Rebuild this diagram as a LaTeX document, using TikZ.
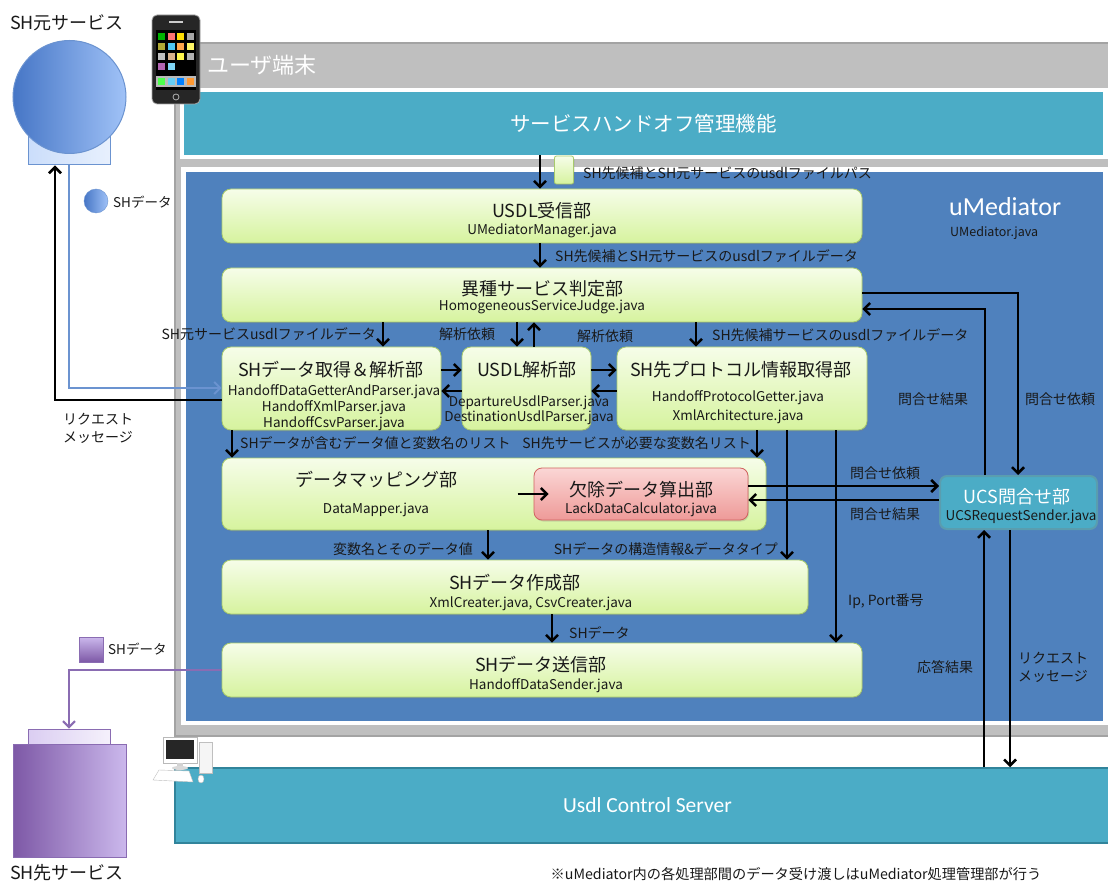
\documentclass[tikz,border=0pt]{standalone}
\usepackage{fontspec}
\setmainfont{Noto Sans CJK JP}
\newfontfamily\calfont{Carlito}
\usepackage{xcolor}
\usepackage{tikz}
\usetikzlibrary{arrows.meta,shadows}

\definecolor{umblue}{HTML}{4F81BD}
\definecolor{tealbox}{HTML}{4BACC6}
\definecolor{tealdk}{HTML}{31849B}
\definecolor{framegray}{HTML}{BFBFBF}
\definecolor{framedk}{HTML}{A3A3A3}
\definecolor{gtop}{HTML}{F6FDE9}
\definecolor{gbot}{HTML}{D6F39E}
\definecolor{gline}{HTML}{A8CB6C}
\definecolor{ptop}{HTML}{FBD6D5}
\definecolor{pbot}{HTML}{EE9A98}
\definecolor{pline}{HTML}{D0625F}
\definecolor{srcL}{HTML}{4676C6}
\definecolor{srcR}{HTML}{A0C2F7}
\definecolor{srcE}{HTML}{6B93D0}
\definecolor{dstL}{HTML}{7D58A6}
\definecolor{dstR}{HTML}{CBB8EC}
\definecolor{dstE}{HTML}{8A6CB2}

\begin{document}
\begin{tikzpicture}[x=1pt, y=-1pt,
    every node/.style={font=\fontsize{14}{18}\selectfont, text=black!90, inner sep=0pt},
    ttl/.style={font=\fontsize{18}{20}\selectfont},
    jv/.style={font=\fontsize{13.5}{16}\selectfont},
    gbox/.style={draw=gline, line width=0.8pt, rounded corners=9pt, top color=gtop, bottom color=gbot,
      drop shadow={opacity=0.25, shadow xshift=1pt, shadow yshift=-1.5pt}},
    arr/.style={line width=2.5pt, -{Straight Barb[length=6pt,width=12pt]}},
  ]
    \useasboundingbox (0,0) rectangle (1108,882);
    \clip (0,0) rectangle (1108,882);
    \fill[white] (0,0) rectangle (1108,882);

    % user terminal frame
    \draw[fill=framegray, draw=framedk, line width=1.5pt] (175,43) rectangle (1125,736);
    \node[anchor=west, text=white, font=\fontsize{22}{24}\selectfont] (dev) at (207,65) {ユーザ端末};
    \fill[white] (180,88) rectangle (1108,159);
    \node[fill=tealbox, minimum width=919, minimum height=63, text=white,
      font=\fontsize{20.5}{22}\selectfont] (mgr) at (643.5,123.5) {サービスハンドオフ管理機能};
    \fill[white] (181,167) rectangle (1108,725);
    \node[fill=umblue, minimum width=917, minimum height=549] (umed) at (644.5,446.5) {};
    \node[anchor=west, text=white, font=\calfont\fontsize{26}{28}\selectfont] (umedname) at (949,207) {uMediator};
    \node[anchor=west, font=\fontsize{12.5}{14}\selectfont] (umedjava) at (950,233) {UMediator.java};

    % phone
    \begin{scope}[shift={(152,15)}]
        \fill[black!85, rounded corners=5pt] (0,0) rectangle (48,89);
        \draw[black!35, line width=0.8pt, rounded corners=5pt] (0,0) rectangle (48,89);
        \fill[black] (4,15) rectangle (44,75);
        \fill[gray!40] (17,6) rectangle (31,8);
        \foreach \col [count=\i from 0] in {green!70!black, red!55, yellow!80!orange, gray!70,
            olive!70, cyan!70, orange!70, yellow!60, gray!50, brown!60, yellow!70, gray!60,
            violet!60, cyan!50} {
            \pgfmathtruncatemacro{\rr}{int(\i/4)}
            \pgfmathtruncatemacro{\cc}{mod(\i,4)}
            \fill[\col] (6+\cc*9.5,18+\rr*10) rectangle ++(7,7);
        }
        \fill[gray!55] (4,61) rectangle (44,72);
        \foreach \col [count=\i from 0] in {green!70, cyan!60, blue!50!cyan, orange!80}
            \fill[\col] (6+\i*9.5,63) rectangle ++(7,7);
        \draw[gray!60, line width=0.8pt] (24,82) circle (3pt);
    \end{scope}

    % source service
    \node[draw=srcE, line width=1pt, left color=srcR!55, right color=srcR!25,
      minimum width=82, minimum height=40] (srcbase) at (69,145) {};
    \node[circle, draw=srcE, line width=1pt, left color=srcL, right color=srcR,
      minimum size=113] (src) at (69.5,97) {};
    \node[font=\fontsize{18}{20}\selectfont] (srcname) at (67,23) {SH元サービス};
    \node[circle, draw=srcE, left color=srcL, right color=srcR, minimum size=24] (srcdot) at (96,201) {};
    \node[anchor=west, font=\fontsize{13.5}{16}\selectfont] (srcdotlbl) at (113,202) {SHデータ};

    % destination service
    \node[draw=dstE, line width=1pt, left color=dstR!70, right color=dstR!20,
      minimum width=82, minimum height=15] (dsttop) at (69,736.5) {};
    \node[draw=dstE, line width=1pt, left color=dstL, right color=dstR,
      minimum width=113, minimum height=113] (dst) at (69.5,800.5) {};
    \node[font=\fontsize{18}{20}\selectfont] (dstname) at (67,873) {SH先サービス};
    \node[draw=dstE, top color=dstR, bottom color=dstL, minimum width=24, minimum height=25] (dstdot) at (91,649.5) {};
    \node[anchor=west, font=\fontsize{13.5}{16}\selectfont] (dstdotlbl) at (108,649) {SHデータ};

    % server
    \node[fill=tealbox, draw=tealdk, line width=1.5pt, minimum width=945, minimum height=75,
      text=white, font=\calfont\fontsize{21.5}{24}\selectfont] (server) at (647.5,805.5) {Usdl Control Server};
    \begin{scope}[shift={(153,737)}]
        \draw[gray!55, fill=white] (10,0) rectangle (44,26);
        \fill[black!85] (13,3) rectangle (41,22);
        \fill[gray!35] (24,26) rectangle (30,29);
        \fill[gray!30] (27,31) ellipse (8pt and 2pt);
        \draw[gray!50, fill=gray!8] (46,5) rectangle (59,36);
        \draw[gray!50, fill=white] (6,33) -- (36,34) -- (40,45) -- (0,43) -- cycle;
        \draw[gray!50, fill=white] (48,42) ellipse (3pt and 4pt);
    \end{scope}

    % processing units
    \node[gbox, minimum width=19, minimum height=28, rounded corners=2pt] (doc) at (564,170) {};
    \node[gbox, minimum width=640, minimum height=54] (recv) at (542,216) {};
    \node[ttl] (recvT) at (542,211) {USDL受信部};
    \node[jv] (recvJ) at (542,231) {UMediatorManager.java};

    \node[gbox, minimum width=640, minimum height=54] (judge) at (542,295) {};
    \node[ttl] (judgeT) at (542,289) {異種サービス判定部};
    \node[jv] (judgeJ) at (542,307) {HomogeneousServiceJudge.java};

    \node[gbox, minimum width=219, minimum height=83] (getter) at (331.5,388.5) {};
    \node[ttl] (getterT) at (331,370) {SHデータ取得＆解析部};
    \node[jv, align=center] (getterJ) at (334,408) {HandoffDataGetterAndParser.java\\HandoffXmlParser.java\\HandoffCsvParser.java};

    \node[gbox, minimum width=129, minimum height=83] (parser) at (526.5,388.5) {};
    \node[ttl] (parserT) at (527,370) {USDL解析部};
    \node[jv, align=center, font=\fontsize{13.5}{15.5}\selectfont] (parserJ) at (529,410.5) {DepartureUsdlParser.java\\DestinationUsdlParser.java};

    \node[gbox, minimum width=250, minimum height=83] (proto) at (742,388.5) {};
    \node[ttl] (protoT) at (741,370) {SH先プロトコル情報取得部};
    \node[jv, align=center, font=\fontsize{13.5}{19}\selectfont] (protoJ) at (738,407.5) {HandoffProtocolGetter.java\\XmlArchitecture.java};

    \node[gbox, minimum width=544, minimum height=72] (mapper) at (494,494) {};
    \node[ttl] (mapperT) at (376,480) {データマッピング部};
    \node[jv] (mapperJ) at (376,510) {DataMapper.java};

    \node[draw=pline, line width=0.8pt, rounded corners=8pt, top color=ptop, bottom color=pbot,
      drop shadow={opacity=0.25, shadow xshift=1pt, shadow yshift=-1.5pt},
      minimum width=214, minimum height=52] (lack) at (641,494) {};
    \node[ttl] (lackT) at (641,490) {欠除データ算出部};
    \node[jv] (lackJ) at (641,510) {LackDataCalculator.java};

    \node[gbox, minimum width=586, minimum height=54] (creator) at (515,587) {};
    \node[ttl] (creatorT) at (515,583) {SHデータ作成部};
    \node[jv] (creatorJ) at (531,604) {XmlCreater.java, CsvCreater.java};

    \node[gbox, minimum width=640, minimum height=54] (sender) at (542,670) {};
    \node[ttl] (senderT) at (541,665) {SHデータ送信部};
    \node[jv] (senderJ) at (546,686) {HandoffDataSender.java};

    \node[fill=tealbox, draw=tealdk!80, line width=2pt, rounded corners=7pt,
      minimum width=157, minimum height=53] (ucs) at (1018.5,502.5) {};
    \node[ttl, text=white] (ucsT) at (1017,497) {UCS問合せ部};
    \node[jv] (ucsJ) at (1021,517) {UCSRequestSender.java};

    % connectors
    \draw[arr] (mgr.south -| 540,0) -- (recv.north -| 540,0);
    \draw[arr] (recv.south -| 540,0) -- (judge.north -| 540,0);
    \draw[arr] (judge.south -| 383,0) -- (getter.north -| 383,0);
    \draw[arr] (judge.south -| 517,0) -- (parser.north -| 517,0);
    \draw[arr] (parser.north -| 534,0) -- (judge.south -| 534,0);
    \draw[arr] (judge.south -| 696,0) -- (proto.north -| 696,0);
    \draw[arr] (getter.east |- 0,370) -- (parser.west |- 0,370);
    \draw[arr] (parser.west |- 0,391) -- (getter.east |- 0,391);
    \draw[arr] (parser.east |- 0,370) -- (proto.west |- 0,370);
    \draw[arr] (proto.west |- 0,391) -- (parser.east |- 0,391);
    \draw[arr] (getter.south -| 232,0) -- (mapper.north -| 232,0);
    \draw[arr] (proto.south -| 757,0) -- (mapper.north -| 757,0);
    \draw[arr] (mapper.south -| 488,0) -- (creator.north -| 488,0);
    \draw[arr] (proto.south -| 787,0) -- (creator.north -| 787,0);
    \draw[arr] (proto.south -| 836,0) -- (sender.north -| 836,0);
    \draw[arr] (creator.south -| 552,0) -- (sender.north -| 552,0);
    \draw[arr] ([xshift=-16pt]lack.west) -- ([xshift=15pt]lack.west);
    \draw[arr] (lack.east |- 0,486) -- (ucs.west |- 0,486);
    \draw[arr] (ucs.west |- 0,500) -- (lack.east |- 0,500);
    \draw[arr] (judge.east |- 0,293) -| (ucs.north -| 1018,0);
    \draw[arr] (ucs.north -| 985,0) |- (judge.east |- 0,309);
    \draw[arr] (ucs.south -| 1010,0) -- (server.north -| 1010,0);
    \draw[arr] (server.north -| 984,0) -- (ucs.south -| 984,0);

    \draw[srcE, line width=2pt, -{Straight Barb[length=6pt,width=12pt]}] (srcbase.south) |- (getter.west |- 0,388);
    \draw[arr] (getter.west |- 0,400) -| ([xshift=-14pt]srcbase.south);
    \draw[dstE, line width=2pt, -{Straight Barb[length=6pt,width=12pt]}] (sender.west) -| (dsttop.north);

    % connector labels
    \node[anchor=west] (lblpath) at (583,173) {SH先候補とSH元サービスのusdlファイルパス};
    \node[anchor=west] (lbldata) at (555,256) {SH先候補とSH元サービスのusdlファイルデータ};
    \node[anchor=east] (lblsrcdata) at (376,334) {SH元サービスusdlファイルデータ};
    \node (lblreq1) at (467,334) {解析依頼};
    \node (lblreq2) at (605,336) {解析依頼};
    \node[anchor=west] (lbldstdata) at (712,335) {SH先候補サービスのusdlファイルデータ};
    \node[anchor=west] (lblvals) at (240,443) {SHデータが含むデータ値と変数名のリスト};
    \node[anchor=east] (lblnames) at (751,443) {SH先サービスが必要な変数名リスト};
    \node[anchor=east] (lblpairs) at (473,549) {変数名とそのデータ値};
    \node[anchor=east] (lblstruct) at (778,549) {SHデータの構造情報\&データタイプ};
    \node[anchor=west] (lblshdata) at (569,633) {SHデータ};
    \node[anchor=west] (lblip) at (848,601) {Ip, Port番号};
    \node (lblask1) at (885,473) {問合せ依頼};
    \node (lblans1) at (885,514) {問合せ結果};
    \node (lblans2) at (933,399) {問合せ結果};
    \node (lblask2) at (1060,399) {問合せ依頼};
    \node (lblresp) at (945,667) {応答結果};
    \node[anchor=west, align=left] (lblmsg2) at (1018,667) {リクエスト\\メッセージ};
    \node[anchor=west, align=left] (lblmsg1) at (63,428) {リクエスト\\メッセージ};
    \node[font=\fontsize{14.2}{16}\selectfont] (note) at (796,874) {※uMediator内の各処理部間のデータ受け渡しはuMediator処理管理部が行う};
\end{tikzpicture}
\end{document}
